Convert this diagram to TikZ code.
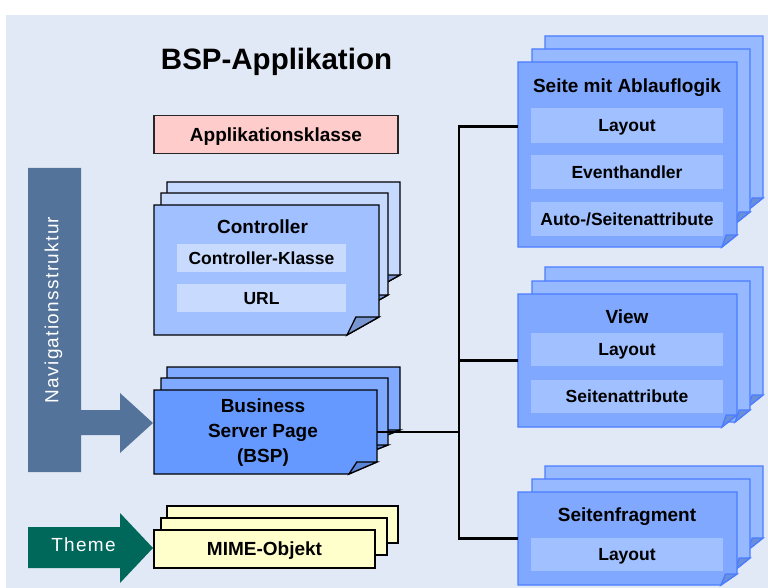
\documentclass[tikz,border=0pt]{standalone}
\usepackage{fontspec}
\setmainfont{Liberation Sans}
\newfontfamily\spacedfont[LetterSpace=7]{Liberation Sans}
\usetikzlibrary{fit}

\definecolor{panel}{HTML}{E2E9F6}
\definecolor{navblue}{HTML}{53739A}
\definecolor{themegreen}{HTML}{00675B}
\definecolor{pinkfill}{HTML}{FFCCCC}
\definecolor{ctrlfront}{HTML}{A0C0FF}
\definecolor{ctrlback}{HTML}{C6D9FF}
\definecolor{ctrlrow}{HTML}{C8DBFF}
\definecolor{bspfront}{HTML}{6699FF}
\definecolor{bspback}{HTML}{80AAFF}
\definecolor{mimefill}{HTML}{FFFFCC}
\definecolor{pagefront}{HTML}{80A8FF}
\definecolor{pageback}{HTML}{97B9FF}
\definecolor{pagerow}{HTML}{A0C0FF}
\definecolor{pageedge}{HTML}{4A7DFF}
\definecolor{foldleft}{HTML}{7896D2}
\definecolor{foldbsp}{HTML}{5B85D8}
\definecolor{foldright}{HTML}{6A8FDA}

% one sheet of a stack: style, x1, y1, x2, y2, fold width, fold height, fold colour
\newcommand\sheet[8]{%
  \filldraw[#1] (#2,#3) -- (#4,#3) -- (#4,#5-#7) -- (#4-#6,#5) -- (#2,#5) -- cycle;
  \filldraw[#1,fill=#8] (#4-#6,#5) -- (#4-0.72*#6,#5-#7) -- (#4,#5-#7) -- cycle;
}

\begin{document}
\begin{tikzpicture}[x=1pt, y=-1pt,
  leftsheet/.style={draw=black, line width=1.3pt},
  rightsheet/.style={draw=pageedge, line width=1.3pt},
  frontarea/.style={inner sep=0pt, outer sep=0pt},
  bigtitle/.style={inner sep=0pt, font=\bfseries\fontsize{29.5}{34}\selectfont, text height=21.1pt, text depth=0pt},
  ttl/.style={inner sep=0pt, font=\bfseries\fontsize{19}{22}\selectfont, text height=13.6pt, text depth=0pt},
  ttlmulti/.style={inner sep=0pt, font=\bfseries\fontsize{19}{25}\selectfont, align=center},
  rowbox/.style={inner sep=0pt, font=\bfseries\fontsize{17.5}{20}\selectfont, text height=12.5pt, text depth=0pt},
  pagerowbox/.style={rowbox, fill=pagerow, minimum width=192pt},
  ctrlrowbox/.style={rowbox, fill=ctrlrow, minimum width=169pt, minimum height=28pt},
  whitelabel/.style={inner sep=0pt, text=white, font=\spacedfont\fontsize{19}{22}\selectfont, text height=13.6pt, text depth=0pt},
  link/.style={draw=black, line width=2.3pt}]

\useasboundingbox (0,0) rectangle (768,588);
\fill[white] (0,0) rectangle (768,588);
\fill[panel] (6,15) rectangle (768,588);

% heading
\node[bigtitle] (title) at (276.5,58.5) {BSP-Applikation};

% application class
\node[draw=black!85, line width=1.2pt, fill=pinkfill, minimum width=244pt, minimum height=38pt,
      inner sep=0pt, font=\bfseries\fontsize{19}{22}\selectfont, text height=13.6pt, text depth=0pt]
      (appcls) at (276,134.5) {Applikationsklasse};

% controller stack
\sheet{leftsheet,fill=ctrlback}{167}{182}{400}{293}{32}{18}{foldleft}
\sheet{leftsheet,fill=ctrlback}{161}{193}{388}{313}{32}{18}{foldleft}
\sheet{leftsheet,fill=ctrlfront}{154}{205}{379}{335}{32}{18}{foldleft}
\node[frontarea, fit={(154,205) (379,335)}] (ctrl) {};
\node[ttl] (ctrltitle) at (262.5,227) {Controller};
\node[ctrlrowbox] (ctrlcls) at (261.5,258) {Controller-Klasse};
\node[ctrlrowbox] (ctrlurl) at (261.5,298) {URL};

% business server page stack
\sheet{leftsheet,fill=bspback}{167}{367}{400}{441}{28}{11}{foldbsp}
\sheet{leftsheet,fill=bspback}{161}{378}{388}{456}{28}{11}{foldbsp}
\sheet{leftsheet,fill=bspfront}{154}{390}{377}{474}{28}{12}{foldbsp}
\node[frontarea, fit={(154,390) (377,474)}] (bsp) {};
\node[ttlmulti] (bsptext) at (263,433) {Business\\Server Page\\(BSP)};

% MIME object stack
\filldraw[leftsheet, fill=mimefill] (167,506) rectangle (398,543);
\filldraw[leftsheet, fill=mimefill] (161,518) rectangle (387,555);
\node[leftsheet, fill=mimefill, minimum width=221pt, minimum height=38pt, inner sep=0pt,
      font=\bfseries\fontsize{19}{22}\selectfont, text height=13.6pt, text depth=0pt]
      (mime) at (264.5,549) {MIME-Objekt};

% page with flow logic
\sheet{rightsheet,fill=pageback}{545}{36}{763}{210}{15}{12}{foldright}
\sheet{rightsheet,fill=pageback}{532}{49}{750}{224}{15}{12}{foldright}
\sheet{rightsheet,fill=pagefront}{518}{62}{737}{247}{15}{12}{foldright}
\node[frontarea, fit={(518,62) (737,247)}] (seite) {};
\node[ttl] (seitetitle) at (627,85.5) {Seite mit Ablauflogik};
\node[pagerowbox, minimum height=35pt] (seitelayout) at (627,125.5) {Layout};
\node[pagerowbox, minimum height=34pt] (seiteevent) at (627,172) {Eventhandler};
\node[pagerowbox, minimum height=34pt] (seiteattr) at (627,219) {Auto-/Seitenattribute};

% view
\sheet{rightsheet,fill=pageback}{545}{267}{763}{407}{15}{12}{foldright}
\sheet{rightsheet,fill=pageback}{532}{281}{750}{422}{15}{12}{foldright}
\sheet{rightsheet,fill=pagefront}{518}{294}{737}{427}{15}{12}{foldright}
\node[frontarea, fit={(518,294) (737,427)}] (view) {};
\node[ttl] (viewtitle) at (627,316.5) {View};
\node[pagerowbox, minimum height=33pt] (viewlayout) at (627,349.5) {Layout};
\node[pagerowbox, minimum height=33pt] (viewattr) at (627,396.5) {Seitenattribute};

% page fragment
\sheet{rightsheet,fill=pageback}{545}{466}{763}{550}{15}{12}{foldright}
\sheet{rightsheet,fill=pageback}{532}{479}{750}{570}{15}{12}{foldright}
\sheet{rightsheet,fill=pagefront}{518}{492}{737}{585}{16}{11}{foldright}
\node[frontarea, fit={(518,492) (737,585)}] (sfrag) {};
\node[ttl] (sfragtitle) at (627,515) {Seitenfragment};
\node[pagerowbox, minimum height=33pt] (sfraglayout) at (627,554.5) {Layout};

% navigation structure bar with its arrow
\fill[navblue] (28,168) -- (81,168) -- (81,410) -- (120,410) -- (120,393) -- (153,423)
  -- (120,453) -- (120,435) -- (81,435) -- (81,472) -- (28,472) -- cycle;
\node[whitelabel, rotate=90] (navlabel) at (51.5,310) {Navigationsstruktur};

% theme arrow
\fill[themegreen] (28,527) -- (120,527) -- (120,513) -- (153,548) -- (120,583)
  -- (120,568) -- (28,568) -- cycle;
\node[whitelabel] (themelabel) at (83.5,545) {Theme};

% connectors from the BSP to the page kinds
\coordinate (bus) at (459,300);
\draw[link] ([yshift=28pt]seite.west) -| (bus |- sfrag.west) -- (sfrag.west);
\draw[link] (view.west) -- (view.west -| bus);
\draw[link] (bsp.east) -- (bsp.east -| bus);
\end{tikzpicture}
\end{document}
